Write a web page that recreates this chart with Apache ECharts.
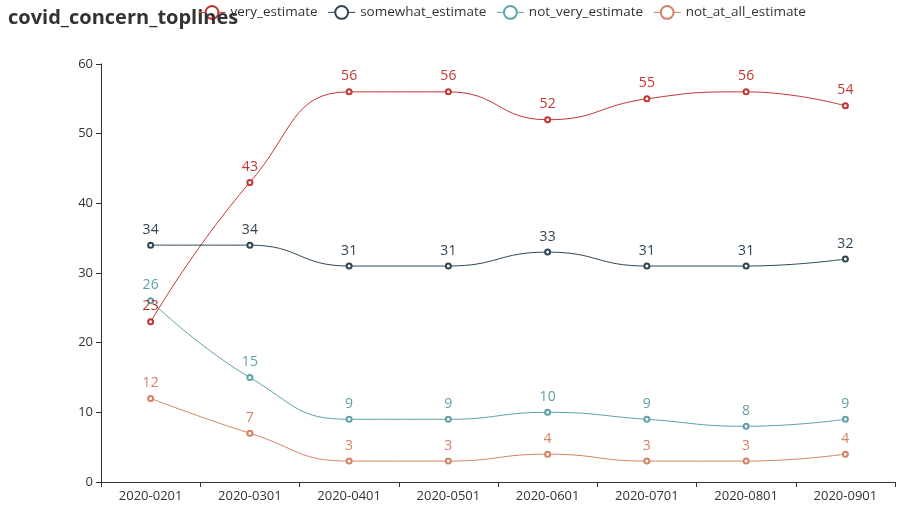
<!DOCTYPE html>
<html><head><meta charset="utf-8">
<script src="https://cdn.jsdelivr.net/npm/echarts@6/dist/echarts.min.js"></script>
<style>html,body{margin:0;padding:0;background:#fff}#c{width:911px;height:518px}</style>
</head><body><div id="c"></div>
<script>
const categories = ['2020-0201','2020-0301','2020-0401','2020-0501','2020-0601','2020-0701','2020-0801','2020-0901'];
const veryEstimate = [23,43,56,56,52,55,56,54];
const somewhatEstimate = [34,34,31,31,33,31,31,32];
const notVeryEstimate = [26,15,9,9,10,9,8,9];
const notAtAllEstimate = [12,7,3,3,4,3,3,4];
const seriesNames = ['very_estimate','somewhat_estimate','not_very_estimate','not_at_all_estimate'];
const seriesData = [veryEstimate, somewhatEstimate, notVeryEstimate, notAtAllEstimate];
const colors = ['#c23531','#2f4554','#61a0a8','#d48265'];
const FONT = '"Open Sans", "Noto Sans", sans-serif';
const chart = echarts.init(document.getElementById('c'));
chart.setOption({
  color: colors,
  textStyle: {fontFamily: FONT},
  title: {text: 'covid_concern_toplines', left: 3, top: 3,
    textStyle: {fontSize: 20, fontWeight: 'bold', color: '#333', fontFamily: FONT}},
  legend: {data: seriesNames, left: 193, top: 0, itemGap: 10, itemWidth: 27, itemHeight: 16,
    lineStyle: {width: 1}, itemStyle: {borderWidth: 1},
    textStyle: {fontSize: 13.5, color: '#333', fontFamily: FONT}},
  grid: {left: 101, right: 16, top: 64, bottom: 36},
  xAxis: {type: 'category', data: categories, boundaryGap: true,
    axisLine: {lineStyle: {color: '#333'}}, axisTick: {show: true},
    axisLabel: {color: '#333', fontSize: 13, margin: 8}},
  yAxis: {type: 'value', min: 0, max: 60, interval: 10,
    axisLine: {show: true, lineStyle: {color: '#333'}}, axisTick: {show: true},
    splitLine: {show: false}, axisLabel: {color: '#333', fontSize: 13}},
  series: seriesNames.map((n, i) => ({
    name: n, type: 'line', smooth: true, data: seriesData[i],
    symbol: 'emptyCircle', symbolSize: 5,
    itemStyle: {borderWidth: 1},
    lineStyle: {width: 1},
    label: {show: true, position: 'top', fontSize: 14, color: colors[i]}
  }))
});
</script></body></html>
